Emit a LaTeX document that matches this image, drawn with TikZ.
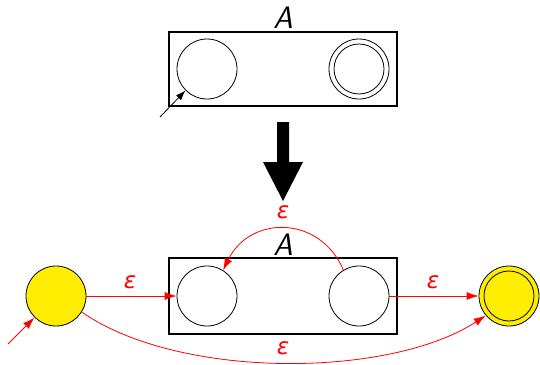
\documentclass[tikz,border=0pt]{standalone}
\usepackage{fontspec}
\newfontfamily\epsfont{DejaVu Sans}
\usetikzlibrary{arrows.meta}
\tikzset{
  st/.style={circle,draw,line width=0.8pt,minimum size=60pt,inner sep=0pt},
  inner/.style={circle,draw,line width=0.8pt,minimum size=50pt,inner sep=0pt},
  ybox/.style={fill=yellow!95!orange},
  frame/.style={draw,line width=1.5pt},
  lbl/.style={font=\fontsize{31}{34}\selectfont\sffamily\itshape},
  eps/.style={text=red,font=\fontsize{23}{28}\selectfont\epsfont\itshape},
  redarr/.style={red,line width=0.8pt,-{Latex[length=12pt,width=8pt]}},
  blkarr/.style={black,line width=0.8pt,-{Latex[length=10pt,width=7pt]}}
}
\begin{document}
\begin{tikzpicture}[x=1pt,y=-1pt]
\useasboundingbox (0,0) rectangle (540,364);
% top
\node[frame,minimum width=228pt,minimum height=74pt,inner sep=0pt] (boxA) at (283,69) {};
\node[lbl] (labA) at (283,18) {A};
\node[st] (s1) at (207,69) {};
\node[st] (f1) at (359,69) {};
\node[inner] (f1i) at (359,69) {};
\coordinate (i1) at (160,117);
\draw[blkarr] (i1) -- (s1.225);
% big arrow
\fill (277,122) -- (289,122) -- (289,162) -- (303,162) -- (283,201) -- (263,162) -- (277,162) -- cycle;
% bottom
\node[frame,minimum width=228pt,minimum height=76pt,inner sep=0pt] (boxB) at (283,296) {};
\node[lbl] (labB) at (283,245) {A};
\node[st] (s2) at (207,296) {};
\node[st] (f2) at (359,296) {};
\node[st,ybox] (ns) at (56,296) {};
\node[st,ybox] (nf) at (509,296) {};
\node[inner] (nfi) at (509,296) {};
\coordinate (i2) at (8,344);
\draw[redarr] (i2) -- (ns.225);
\draw[redarr] (ns) -- (s2);
\draw[redarr] (f2) -- (nf);
\draw[redarr] (f2.121) .. controls (320,215) and (250,215) .. (s2.58);
\draw[redarr] (ns.-32) .. controls (180,380) and (390,378) .. (nf.-140);
\node[eps] (e1) at (283,212) {ε};
\node[eps] (e2) at (130,282) {ε};
\node[eps] (e3) at (433,282) {ε};
\node[eps] (e4) at (283,348) {ε};
\end{tikzpicture}
\end{document}
